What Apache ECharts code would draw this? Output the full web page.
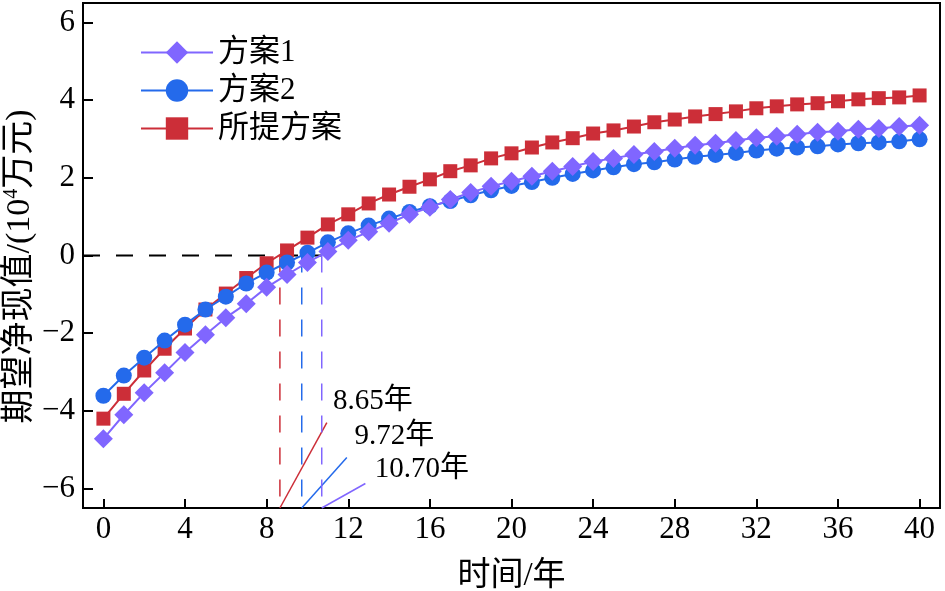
<!DOCTYPE html>
<html>
<head>
<meta charset="utf-8">
<script src="https://cdn.jsdelivr.net/npm/echarts@6/dist/echarts.min.js"></script>
<style>
  html, body { margin: 0; padding: 0; background: #fff; }
  #chart { width: 945px; height: 591px; }
</style>
</head>
<body>
<div id="chart"></div>
<script>
// data
const years = [0, 1, 2, 3, 4, 5, 6, 7, 8, 9, 10, 11, 12, 13, 14, 15, 16, 17, 18, 19, 20,
    21, 22, 23, 24, 25, 26, 27, 28, 29, 30, 31, 32, 33, 34, 35, 36, 37, 38, 39, 40];
const plan1 = [-4.72, -4.10, -3.53, -3.02, -2.50, -2.04, -1.60, -1.24, -0.82, -0.49, -0.18,
    0.10, 0.39, 0.61, 0.83, 1.06, 1.24, 1.44, 1.62, 1.78, 1.91,
    2.04, 2.17, 2.29, 2.42, 2.50, 2.60, 2.68, 2.76, 2.84, 2.89,
    2.96, 3.03, 3.07, 3.12, 3.17, 3.20, 3.25, 3.27, 3.32, 3.35];
const plan2 = [-3.61, -3.09, -2.63, -2.19, -1.78, -1.39, -1.06, -0.72, -0.44, -0.18, 0.07,
    0.34, 0.57, 0.77, 0.95, 1.12, 1.27, 1.40, 1.55, 1.68, 1.79,
    1.89, 2.00, 2.10, 2.19, 2.27, 2.35, 2.40, 2.47, 2.54, 2.59,
    2.64, 2.70, 2.75, 2.78, 2.81, 2.86, 2.89, 2.91, 2.94, 2.99];
const proposed = [-4.20, -3.56, -2.96, -2.40, -1.88, -1.39, -0.98, -0.58, -0.20, 0.13, 0.46,
    0.80, 1.06, 1.34, 1.57, 1.77, 1.96, 2.17, 2.32, 2.50, 2.63,
    2.78, 2.91, 3.02, 3.14, 3.22, 3.32, 3.43, 3.50, 3.58, 3.64,
    3.71, 3.79, 3.84, 3.89, 3.92, 3.97, 4.02, 4.05, 4.07, 4.12];

// payback years (proposed, plan2, plan1) and their annotation text positions
const crossYears = [8.65, 9.72, 10.70];
const leaderEndX = [10.95, 11.93, 12.84];
const leaderEndY = [-4.30, -5.20, -5.87];
const labelX = [11.25, 12.3, 13.3];
const labelY = [-3.75, -4.65, -5.5];

const xTicks = [0, 4, 8, 12, 16, 20, 24, 28, 32, 36, 40];
const yTicks = [-6, -4, -2, 0, 2, 4, 6];
const xMin = -1, xMax = 41, yMin = -6.5, yMax = 6.5;

const names = ['方案1', '方案2', '所提方案'];
const colors = ['#8066ff', '#246aeb', '#cc2e38'];
const FONT = "'Times New Roman', 'Liberation Serif', 'Noto Sans CJK SC', serif";

const pairs = (ys) => years.map((x, i) => [x, ys[i]]);
const minus = (v) => String(v).replace('-', '\u2212');

function curve(name, data, color, symbol, size, z) {
    return {
        name, type: 'line', data: pairs(data), z,
        symbol, symbolSize: size,
        lineStyle: {color, width: 2},
        itemStyle: {color},
    };
}

const annotations = [];
// horizontal zero line up to the last crossing
annotations.push({
    type: 'line', silent: true, symbol: 'none', z: 1,
    data: [[xMin, 0], [crossYears[2], 0]],
    lineStyle: {color: '#000', width: 2, type: [17, 16]}
});
const leadColors = [colors[2], colors[1], colors[0]];
crossYears.forEach((c, i) => {
    annotations.push({
        type: 'line', silent: true, symbol: 'none', z: 1,
        data: [[c, 0], [c, yMin]],
        lineStyle: {color: leadColors[i], width: 1.5, type: [17, 15]}
    });
    annotations.push({
        type: 'line', silent: true, symbol: 'none', z: 1,
        data: [[c, yMin], [leaderEndX[i], leaderEndY[i]]],
        lineStyle: {color: leadColors[i], width: 1.5}
    });
});
annotations.push({
    type: 'scatter', silent: true, symbolSize: 0,
    itemStyle: {opacity: 1},
    data: crossYears.map((c, i) => [labelX[i], labelY[i], c]),
    label: {
        show: true, position: 'right', distance: 0,
        fontFamily: FONT, fontSize: 29, color: '#000', opacity: 1,
        formatter: (p) => p.value[2].toFixed(2) + '年'
    }
});

const chart = echarts.init(document.getElementById('chart'));
chart.setOption({
    animation: false,
    textStyle: {fontFamily: FONT},
    grid: {
        left: 83, right: 5, top: 3, bottom: 83,
        outerBoundsMode: 'none', containLabel: false,
        show: true, borderColor: '#000', borderWidth: 2
    },
    legend: {
        data: names,
        orient: 'vertical',
        left: 135, top: 32,
        itemWidth: 72, itemHeight: 28, itemGap: 7,
        textStyle: {fontFamily: FONT, fontSize: 31, color: '#000', lineHeight: 31}
    },
    xAxis: {
        type: 'value', min: xMin, max: xMax,
        name: '时间/年', nameLocation: 'middle', nameGap: 52,
        nameTextStyle: {fontFamily: FONT, fontSize: 33, color: '#000'},
        axisLine: {onZero: false, lineStyle: {color: '#000', width: 2}},
        axisTick: {inside: true, length: 9, lineStyle: {color: '#000', width: 2}, customValues: xTicks},
        axisLabel: {fontSize: 31, color: '#000', margin: 6, customValues: xTicks, formatter: minus},
        splitLine: {show: false}
    },
    yAxis: {
        type: 'value', min: yMin, max: yMax,
        name: '期望净现值/(10{sup|4}万元)', nameLocation: 'middle', nameGap: 44, nameRotate: 90,
        nameMoveOverlap: false,
        nameTextStyle: {
            fontFamily: FONT, fontSize: 34, color: '#000', padding: [0, 22, 0, 0],
            rich: {sup: {fontFamily: FONT, fontSize: 20, color: '#000', padding: [0, 0, 17, 0]}}
        },
        axisLine: {onZero: false, lineStyle: {color: '#000', width: 2}},
        axisTick: {inside: true, length: 10, lineStyle: {color: '#000', width: 2}, customValues: yTicks},
        axisLabel: {fontSize: 31, color: '#000', margin: 8, customValues: yTicks, formatter: minus},
        splitLine: {show: false}
    },
    series: [
        curve(names[2], proposed, colors[2], 'rect', 14, 2),
        curve(names[1], plan2, colors[1], 'circle', 16, 3),
        curve(names[0], plan1, colors[0], 'diamond', 19, 4),
        ...annotations
    ]
});
</script>
</body>
</html>
